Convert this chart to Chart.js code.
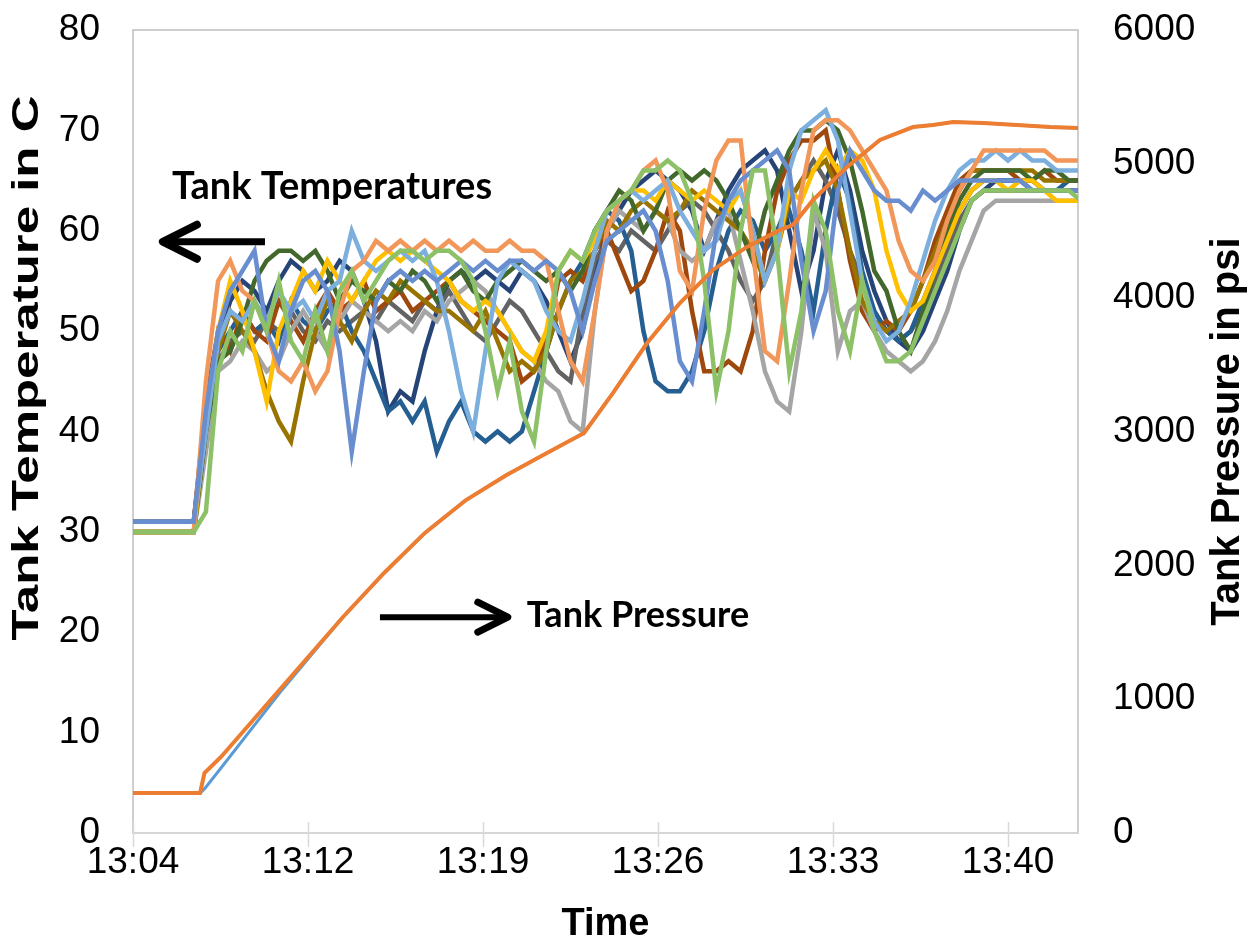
<!DOCTYPE html>
<html><head><meta charset="utf-8">
<script src="https://cdn.jsdelivr.net/npm/chart.js@4.4.0/dist/chart.umd.min.js"></script>
<style>html,body{margin:0;padding:0;background:#fff;}canvas{display:block;}</style>
</head><body>
<canvas id="c" width="1256" height="947"></canvas>
<script>
// minutes after 13:04:48
const xTickValues = [0, 7.2, 14.4, 21.6, 28.8, 36];
const xTickLabels = ['13:04', '13:12', '13:19', '13:26', '13:33', '13:40'];

const tempTime = [0,0.5,1,1.5,2,2.5,3,3.5,4,4.5,5,5.5,6,6.5,7,7.5,8,8.5,9,9.5,10,10.5,11,11.5,12,12.5,13,13.5,14,14.5,15,15.5,16,16.5,17,17.5,18,18.5,19,19.5,20,20.5,21,21.5,22,22.5,23,23.5,24,24.5,25,25.5,26,26.5,27,27.5,28,28.5,29,29.5,30,30.5,31,31.5,32,32.5,33,33.5,34,34.5,35,35.5,36,36.5,37,37.5,38,38.5,39];

const tLightOrange = [30,30,30,30,30,30, 45,55,57,54,53,50,46,45,47,44,46,52, 56,57,59,58,59,58,59,58,59,58,59,58, 58,59,58,58,57,52,47,45,52,60,63,64, 66,67,64,56,54,62,67,69,69,58,48,47, 55,64,70,71,71,70,68,66,64,59,56,55, 57,61,64,66,68,68,68,68,68,68,67,67,67];
const tLightBlue = [31,31,31,31,31,31, 40,49,52,51,53,51,54,52,53,51,54,55, 60,57,56,57,58,57,58,55,50,44,40,48, 55,57,56,55,52,50,49,53,58,62,63,64, 63,64,65,62,60,58,59,63,64,60,55,58, 66,70,71,72,69,62,55,51,49,50,53,57, 61,64,66,67,67,68,67,68,67,67,66,66,66];
const tMidBlue = [31,31,31,31,31,31, 42,50,54,56,58,50,47,52,55,56,54,48, 38,46,53,55,56,55,56,55,56,57,56,57, 56,57,57,56,57,56,54,50,55,59,60,61, 62,60,55,47,45,52,60,63,65,66,67,68, 66,57,50,54,64,68,66,64,63,63,62,64, 63,64,65,65,65,65,65,65,64,64,64,64,64];
const tGreen = [30,30,30,30,30,30, 32,46,50,48,53,50,55,49,47,52,48,54, 56,53,55,57,58,58,57,58,58,57,55,50, 44,49,42,39,48,56,58,57,60,62,63,64, 66,66,67,66,63,55,44,50,60,66,66,58, 46,52,63,60,52,48,55,50,47,47,48,51, 54,57,60,63,64,64,64,64,64,64,64,64,63];
const tDarkGreen = [30,30,30,30,30,30, 40,47,48,51,55,57,58,58,57,58,56,53, 55,54,53,55,54,56,55,53,55,56,54,53, 55,56,57,56,55,56,54,56,60,62,64,63, 60,62,65,66,65,66,65,63,60,57,62,65, 68,70,70,71,70,67,62,56,54,50,48,52, 56,60,63,65,66,66,66,66,65,66,66,65,65];
const tDarkGold = [30,30,30,30,30,30, 40,48,52,50,48,44,41,39,45,50,53,51, 49,52,54,53,55,54,53,52,52,51,50,52, 49,46,47,46,48,52,55,56,58,61,60,62, 63,62,61,62,64,63,62,61,60,58,55,58, 63,65,66,67,64,58,53,51,50,51,52,55, 58,61,64,66,66,66,66,66,66,65,65,65,65];
const tBrown = [31,31,31,31,31,31, 43,50,48,52,50,49,53,51,49,52,54,52, 53,55,52,53,54,52,53,54,55,53,52,51, 50,49,45,46,49,55,56,55,58,60,57,54, 55,58,62,60,52,46,46,47,46,50,58,64, 67,69,69,70,64,57,52,50,51,50,52,55, 59,62,65,66,66,66,66,65,65,66,65,65,65];
const tDarkBlue = [31,31,31,31,31,31, 41,48,50,52,50,51,49,53,51,50,52,53, 50,48,45,42,43,41,43,38,41,43,40,39, 40,39,40,44,48,52,55,57,60,62,61,58, 50,45,44,44,46,50,56,60,62,61,58,60, 62,58,52,60,66,63,56,52,50,49,50,53, 56,59,62,64,65,65,65,65,65,64,64,65,65];
const tGold = [30,30,30,30,30,30, 41,50,55,52,48,43,50,53,56,54,57,55, 53,55,57,58,57,58,57,56,55,53,52,53, 52,50,48,47,50,56,58,57,59,62,63,64, 64,63,65,64,63,64,63,62,64,60,55,58, 64,63,66,68,66,68,67,64,58,54,52,53, 56,59,62,64,65,65,64,65,65,64,63,63,63];
const tGray = [30,30,30,30,30,30, 38,46,47,49,48,46,47,50,52,50,48,51, 53,52,51,50,51,50,52,51,53,54,55,54, 52,50,48,47,45,44,41,40,52,60,62,61, 60,62,61,58,57,58,61,62,57,52,46,43, 42,50,62,58,48,52,53,50,48,47,46,47, 49,52,56,59,62,63,63,63,63,63,63,63,63];
const tDarkGray = [30,30,30,30,30,30, 39,47,49,50,49,51,50,52,50,49,51,50, 51,52,51,53,52,51,53,52,54,52,50,49, 51,53,52,50,48,46,45,52,57,59,58,60, 59,58,60,62,63,62,60,58,55,53,55,60, 63,65,67,65,62,58,55,52,50,49,50,52, 55,58,61,63,64,64,64,64,64,64,64,64,64];
const tNavy = [31,31,31,31,31,31, 42,49,53,55,54,52,55,57,56,54,55,57, 56,53,49,42,44,43,48,52,55,56,55,56, 55,54,56,55,53,50,47,50,56,60,62,64, 65,66,65,64,62,58,61,64,66,67,68,66, 60,54,58,65,68,64,58,54,51,49,48,50, 53,56,60,63,64,65,65,65,64,64,64,64,64];

const pressTime = [0,2.76,2.94,3.62,6.13,8.64,10.33,12.01,13.70,15.37,17.03,18.56,19.75,21.15,22.50,23.86,25.26,26.62,27.15,27.98,29.38,30.73,32.09,32.91,33.74,34.97,36.37,37.73,38.88];
const pressOrange = [299,299,448,568,1091,1614,1943,2242,2488,2675,2839,2989,3288,3661,3960,4207,4379,4506,4543,4730,4977,5178,5275,5290,5313,5305,5290,5275,5268];
const pressBlue = [299,299,329,486,1069,1614,1943,2242,2488,2675,2839,2989,3288,3661,3960,4207,4379,4506,4543,4730,4977,5178,5275,5290,5313,5305,5290,5275,5268];

function line(label, xs, ys, color, axis, width) {
  return { label, data: xs.map((t, i) => ({ x: t, y: ys[i] })), borderColor: color, backgroundColor: color,
    borderWidth: width, pointRadius: 0, yAxisID: axis, tension: 0, fill: false };
}

const datasets = [
  line('Pressure 2', pressTime, pressOrange, '#ED7D31', 'y2', 4),
  line('Pressure 1', pressTime, pressBlue, '#5B9BD5', 'y2', 3),
  line('T1', tempTime, tGreen, '#8CC168', 'y', 4.5),
  line('T2', tempTime, tMidBlue, '#698ED0', 'y', 4.5),
  line('T3', tempTime, tLightOrange, '#F1975A', 'y', 4.5),
  line('T4', tempTime, tLightBlue, '#7CAFDD', 'y', 4.5),
  line('T5', tempTime, tGold, '#FFC000', 'y', 4.5),
  line('T6', tempTime, tDarkGreen, '#43682B', 'y', 4.5),
  line('T7', tempTime, tDarkGold, '#997300', 'y', 4.5),
  line('T8', tempTime, tGray, '#A5A5A5', 'y', 4.5),
  line('T9', tempTime, tBrown, '#9E480E', 'y', 4.5),
  line('T10', tempTime, tDarkBlue, '#255E91', 'y', 4.5),
  line('T11', tempTime, tDarkGray, '#636363', 'y', 4.5),
  line('T12', tempTime, tNavy, '#264478', 'y', 4.5)
];

const SANS = "'Liberation Sans', Arial, sans-serif";

const decor = {
  id: 'decor',
  beforeDatasetsDraw(chart) {
    const { ctx, chartArea: a, scales: { x } } = chart;
    ctx.save();
    ctx.strokeStyle = '#bfbfbf'; ctx.lineWidth = 1.5;
    ctx.strokeRect(a.left, a.top, a.right - a.left, a.bottom - a.top);
    ctx.strokeStyle = '#d9d9d9'; ctx.lineWidth = 1.5;
    ctx.beginPath();
    ctx.moveTo(a.left, a.bottom); ctx.lineTo(a.right, a.bottom);
    xTickValues.forEach(v => { const p = Math.round(x.getPixelForValue(v)) + 0.5; ctx.moveTo(p, a.bottom - 11); ctx.lineTo(p, a.bottom + 14); });
    ctx.stroke();
    ctx.restore();
  },
  afterDraw(chart) {
    const { ctx, chartArea: a, scales: { x, y } } = chart;
    // left axis title (stretched along its length as in the original)
    ctx.save();
    ctx.fillStyle = '#000';
    ctx.font = "bold 36px " + SANS;
    const lt = 'Tank Temperature in C';
    const sx = 545 / ctx.measureText(lt).width;
    ctx.translate(28, 368);
    ctx.rotate(-Math.PI / 2);
    ctx.scale(sx, 1);
    ctx.textAlign = 'center'; ctx.textBaseline = 'middle';
    ctx.fillText(lt, 0, 0);
    ctx.restore();
    // right axis title (reads bottom to top)
    ctx.save();
    ctx.fillStyle = '#000';
    ctx.font = "bold 40px " + SANS;
    ctx.translate(chart.width - 28, (a.top + a.bottom) / 2);
    ctx.rotate(-Math.PI / 2);
    ctx.textAlign = 'center'; ctx.textBaseline = 'middle';
    ctx.fillText('Tank Pressure in psi', 0, 0);
    ctx.restore();

    ctx.save();
    ctx.fillStyle = '#000';
    ctx.font = "bold 38px Lato, 'Open Sans', sans-serif";
    ctx.textAlign = 'left'; ctx.textBaseline = 'middle';
    ctx.fillText('Tank Temperatures', x.getPixelForValue(1.6), y.getPixelForValue(64.4));
    ctx.font = "bold 36px Lato, 'Open Sans', sans-serif";
    ctx.fillText('Tank Pressure', x.getPixelForValue(16.2), y.getPixelForValue(21.7));

    ctx.strokeStyle = '#000';
    // left arrow
    let yy = y.getPixelForValue(58.9), tip = x.getPixelForValue(1.23), tail = x.getPixelForValue(5.43);
    ctx.lineWidth = 7; ctx.lineCap = 'butt';
    ctx.beginPath(); ctx.moveTo(tail, yy); ctx.lineTo(tip + 4, yy); ctx.stroke();
    ctx.lineCap = 'round'; ctx.lineJoin = 'round'; ctx.lineWidth = 8;
    ctx.beginPath(); ctx.moveTo(tip + 34, yy - 17); ctx.lineTo(tip, yy); ctx.lineTo(tip + 34, yy + 17); ctx.stroke();
    // right arrow
    yy = y.getPixelForValue(21.5); tip = x.getPixelForValue(15.42); tail = x.getPixelForValue(10.16);
    ctx.lineWidth = 6; ctx.lineCap = 'butt';
    ctx.beginPath(); ctx.moveTo(tail, yy); ctx.lineTo(tip - 4, yy); ctx.stroke();
    ctx.lineCap = 'round'; ctx.lineWidth = 7;
    ctx.beginPath(); ctx.moveTo(tip - 30, yy - 15); ctx.lineTo(tip, yy); ctx.lineTo(tip - 30, yy + 15); ctx.stroke();
    ctx.restore();
  }
};

const hiddenTicks = len => ({ display: true, drawOnChartArea: false, drawTicks: true, tickLength: len, tickColor: 'rgba(0,0,0,0)' });

new Chart(document.getElementById('c'), {
  type: 'line',
  data: { datasets },
  options: {
    responsive: false, animation: false,
    layout: { padding: { top: 30, left: 0, right: 0, bottom: 0 } },
    plugins: { legend: { display: false }, tooltip: { enabled: false } },
    scales: {
      x: {
        type: 'linear', position: 'bottom', min: 0, max: 38.88,
        afterBuildTicks: s => { s.ticks = xTickValues.map(v => ({ value: v })); },
        afterFit: s => { s.height = 114; },
        grid: { display: false, drawTicks: false }, border: { display: false },
        ticks: { padding: 8, color: '#000', autoSkip: false, maxRotation: 0, font: { family: SANS, size: 37 },
          callback: (v, i) => xTickLabels[i] },
        title: { display: true, text: 'Time', color: '#000', font: { family: SANS, size: 38, weight: 'bold' }, padding: { top: 0, bottom: 0 } }
      },
      y: {
        position: 'left', min: 0, max: 80,
        afterFit: s => { s.width = 133; },
        grid: hiddenTicks(28), border: { display: false },
        ticks: { stepSize: 10, padding: 5, color: '#000', font: { family: SANS, size: 37 }, callback: v => String(v) },
        title: { display: false }
      },
      y2: {
        position: 'right', min: 0, max: 6000,
        afterFit: s => { s.width = 178; },
        grid: hiddenTicks(30), border: { display: false },
        ticks: { stepSize: 1000, padding: 5, color: '#000', font: { family: SANS, size: 37 }, callback: v => String(v) },
        title: { display: false }
      }
    }
  },
  plugins: [decor]
});
</script>
</body></html>
